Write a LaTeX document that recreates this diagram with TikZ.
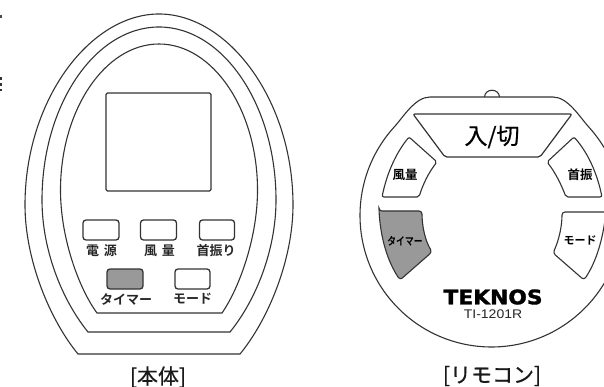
\documentclass[tikz,border=0pt]{standalone}
\usepackage{fontspec}
\setmainfont{Liberation Sans}
\newfontfamily\jp{Noto Sans CJK JP}
\newfontfamily\jpm[FakeBold=0.6]{Noto Sans CJK JP}
\newfontfamily\jpb{Noto Sans CJK JP Bold}
\newfontfamily\latinb[FakeBold=1.5]{DejaVu Sans Bold}
\definecolor{ln}{HTML}{333333}
\definecolor{grayfill}{HTML}{999999}
\tikzset{
  ol/.style={draw=ln,line width=1.1pt},
  btn/.style={draw=ln,line width=1.3pt,rounded corners=3pt,fill=white},
  gbtn/.style={btn,fill=grayfill},
  lab/.style={inner sep=0pt,text=black!85,font=\jpb\fontsize{13}{13}\selectfont},
  rlab/.style={inner sep=0pt,text=black,font=\jpb\fontsize{12.5}{12.5}\selectfont},
  captxt/.style={inner sep=0pt,text=black!90,font=\jpm\fontsize{21}{21}\selectfont},
}
\begin{document}
\begin{tikzpicture}[x=1pt,y=-1pt]
\useasboundingbox (0,0) rectangle (604,387);
\clip (0,0) rectangle (604,387);
% stray cut-off marks at the left edge
\fill[black!70] (0,15.5) rectangle (1.5,18);
\fill[black!80] (0,77) rectangle (1.5,80);
\fill[black!80] (0,83) rectangle (2,86.5);
\fill[black!80] (0,89) rectangle (1.5,91.5);
% main unit
\draw[ol] (78,354) .. controls (50,320) and (25,260) .. (25,205)
  .. controls (25,100) and (90,14) .. (159,14)
  .. controls (228,14) and (293,100) .. (293,205)
  .. controls (293,260) and (268,320) .. (240,354) -- cycle;
\draw[ol] (88,332) .. controls (62,300) and (42,250) .. (42,200)
  .. controls (42,105) and (95,27) .. (159,27)
  .. controls (223,27) and (276,105) .. (276,200)
  .. controls (276,250) and (256,300) .. (230,332) -- cycle;
\draw[ol] (97,313) .. controls (80,290) and (60.5,240) .. (60.5,190)
  .. controls (60.5,110) and (105,44) .. (159,44)
  .. controls (213,44) and (257.5,110) .. (257.5,190)
  .. controls (257.5,240) and (238,290) .. (222,313) -- cycle;
\draw[btn,rounded corners=1.5pt] (106,93) rectangle (211,191);
\draw[btn] (83,220) rectangle (119,240);
\draw[btn] (140.5,220) rectangle (176.5,240);
\draw[btn] (199.5,220) rectangle (234.5,240);
\draw[gbtn] (107,269) rectangle (143,289);
\draw[btn] (175,269) rectangle (210,289);
\node[lab] (l1) at (101.5,251) {電\hspace{5pt}源};
\node[lab] (l2) at (159.5,251) {風\hspace{5pt}量};
\node[lab] (l3) at (216,251) {首振り};
\node[lab] (l4) at (126,299) {タイマー};
\node[lab] (l5) at (192.5,299) {モード};
\node[captxt] (c1) at (158,377) {[本体]};
% remote
\draw[ol] (484.5,97) .. controls (485,88) and (499,88) .. (499.5,97);
\draw[ol,fill=white] (430,97) -- (553,97) .. controls (568,97) and (580,117.5) .. (589.2,127.5)
  arc[start angle=-42,end angle=222,radius=131.5]
  .. controls (403,117.5) and (415,97) .. (430,97) -- cycle;
\draw[btn,rounded corners=2pt,line width=1.2pt] (413,114) -- (572,114) -- (540,157) -- (445,157) -- cycle;
\node[inner sep=0pt,text=black,font=\jpm\fontsize{23}{23}\selectfont] (pw) at (492,137) {入/切};
% wind
\draw[btn,rounded corners=2pt,line width=1.1pt] (382,197) .. controls (387,173) and (396,153) .. (409,137) -- (437,162)
  .. controls (429,172) and (423,184) .. (419,197) -- cycle;
\node[rlab] (wind) at (405,175) {風量};
\draw[btn,rounded corners=2pt,line width=1.1pt] (602,197) .. controls (597,173) and (588,153) .. (574,137) -- (547,162)
  .. controls (555,172) and (561,184) .. (566,197) -- cycle;
\node[rlab] (swing) at (580,175) {首振};
% timer
\draw[gbtn,line width=1.1pt] (379,211) -- (422,211) .. controls (422,226) and (425,240) .. (432,252)
  -- (400,280) .. controls (388,262) and (381,240) .. (379,211) -- cycle;
\node[rlab,font=\jpb\fontsize{11}{11}\selectfont] (timer) at (405,241) {\scalebox{.8}[1]{タイマー}};
\draw[btn,line width=1.1pt] (606,212) -- (562,212) .. controls (562,226) and (559,240) .. (553,253)
  -- (584,280) .. controls (596,262) and (603,240) .. (606,212);
\node[rlab,font=\jpb\fontsize{11}{11}\selectfont] (mode) at (580,240) {モード};
\node[inner sep=0pt,text=black,font=\latinb\fontsize{20}{20}\selectfont] (brand) at (493,297) {\scalebox{1.09}[1]{TEKNOS}};
\node[inner sep=0pt,text=black!85,font=\fontsize{12.5}{12.5}\selectfont] (model) at (493,314) {\scalebox{1.12}[1]{TI-1201R}};
\node[captxt,font=\jpm\fontsize{21}{21}\selectfont] (c2) at (492,376) {[リモコン]};
\end{tikzpicture}
\end{document}
